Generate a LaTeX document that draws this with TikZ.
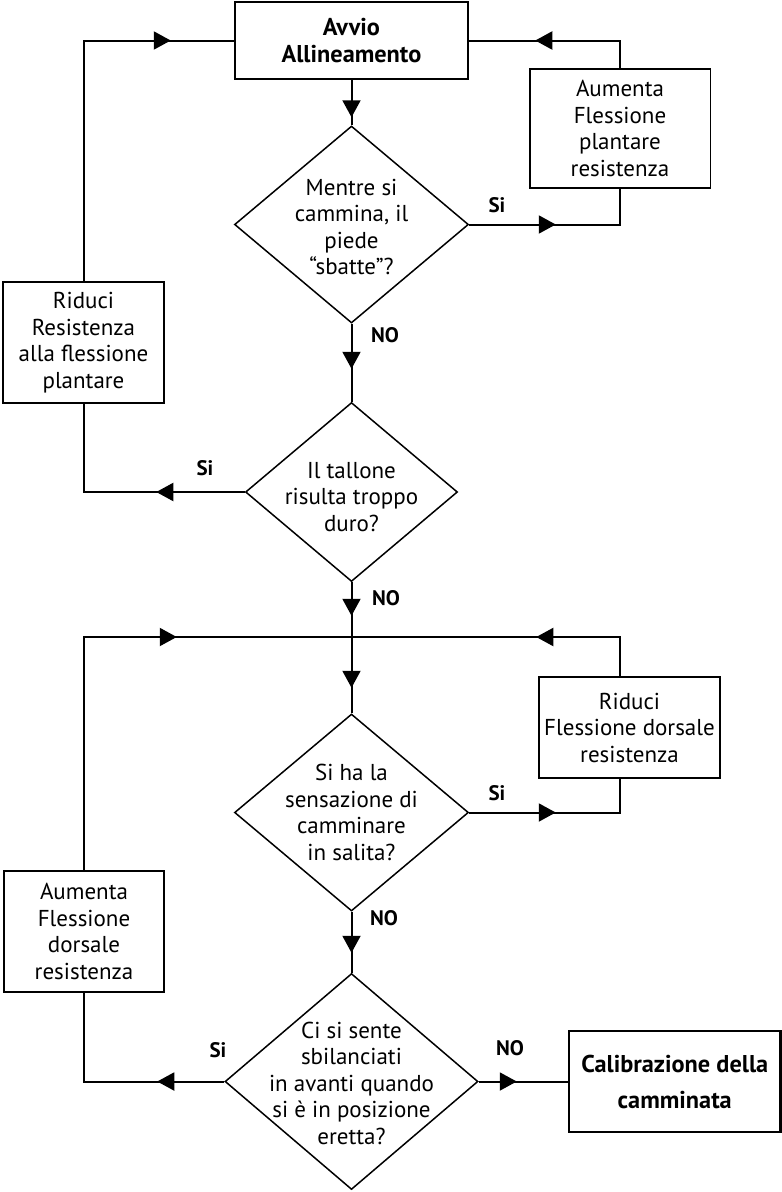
\documentclass[tikz,border=0pt]{standalone}
\usepackage{fontspec}
\setmainfont{PT Sans}
\usetikzlibrary{shapes.geometric,arrows.meta,decorations.markings}
\begin{document}
\begin{tikzpicture}[x=1pt,y=-1pt,
  body/.style={font=\fontsize{23pt}{26.5pt}\selectfont, align=center},
  startbox/.style={draw, line width=2.5pt, align=center, inner sep=0pt,
    font=\fontsize{24.3pt}{27pt}\selectfont\bfseries},
  endbox/.style={draw, line width=2.5pt, align=center, inner sep=0pt,
    font=\fontsize{24.3pt}{36pt}\selectfont\bfseries},
  procbox/.style={draw, line width=1.5pt, body, inner sep=0pt},
  decision/.style={draw, diamond, line width=1.5pt, inner sep=0pt},
  qtext/.style={body, inner sep=0pt},
  lbl/.style={font=\fontsize{21pt}{24pt}\selectfont\bfseries, inner sep=0pt},
  flow/.style={draw, line width=2pt},
  tipat/.style={postaction={decorate, decoration={markings,
    mark=at position #1 with {\arrow{Triangle[length=17pt,width=18pt]}}}}},
]
\useasboundingbox (0,0) rectangle (782,1192);

% process boxes
\node[startbox, minimum width=233, minimum height=77] (start) at (351.5,40.5) {Avvio\\Allineamento};
\node[procbox, minimum width=180.5, minimum height=119] (aup) at (620,128.5) {Aumenta\\Flessione\\plantare\\resistenza};
\node[procbox, minimum width=161, minimum height=121] (rid) at (83.5,342.5) {Riduci\\Resistenza\\alla flessione\\plantare};
\node[procbox, minimum width=181, minimum height=101] (rdd) at (629.5,727.5) {Riduci\\Flessione dorsale\\resistenza};
\node[procbox, minimum width=160, minimum height=121] (aud) at (84,931.5) {Aumenta\\Flessione\\dorsale\\resistenza};
\node[endbox, minimum width=211.5, minimum height=101] (cal) at (674.75,1081.5) {Calibrazione della\\camminata};

% decisions
\node[decision, minimum width=234, minimum height=197] (d1) at (351.5,224.5) {};
\node[qtext] (d1t) at (351.5,227) {Mentre si\\cammina, il\\piede\\“sbatte”?};
\node[decision, minimum width=212, minimum height=179] (d2) at (351.5,492) {};
\node[qtext] (d2t) at (351.5,497) {Il tallone\\risulta troppo\\duro?};
\node[decision, minimum width=234, minimum height=197] (d3) at (351.5,812.5) {};
\node[qtext] (d3t) at (351.5,812.5) {Si ha la\\sensazione di\\camminare\\in salita?};
\node[decision, minimum width=253, minimum height=216] (d4) at (351.5,1081.5) {};
\node[qtext] (d4t) at (351.5,1083) {Ci si sente\\sbilanciati\\in avanti quando\\si è in posizione\\eretta?};

% junction points
\coordinate (j) at (351.5,637);
\coordinate (rc) at (620,637);

% connectors
\draw[flow, tipat=328pt] (rid.north) |- (start.west);
\draw[flow, tipat=112.5pt] (aup.north) |- (start.east);
\draw[flow, tipat=37pt] (start.south) -- (d1.north);
\draw[flow, tipat=86.5pt] (d1.east) -| (aup.south);
\draw[flow, tipat=45pt] (d1.south) -- (d2.north);
\draw[flow, tipat=88.5pt] (d2.west) -| (rid.south);
\draw[flow, tipat=33.5pt, tipat=105.5pt] (d2.south) -- (d3.north);
\draw[flow, tipat=123pt] (rc |- rdd.north) -- (rc) -- (j);
\draw[flow, tipat=326pt] (aud.north) |- (j);
\draw[flow, tipat=86.5pt] (d3.east) -| (rc |- rdd.south);
\draw[flow, tipat=41pt] (d3.south) -- (d4.north);
\draw[flow, tipat=67pt] (d4.west) -| (aud.south);
\draw[flow, tipat=38pt] (d4.east) -- (cal.west);

% branch labels
\node[lbl] (l1s) at (497,205) {Si};
\node[lbl] (l1n) at (385,335) {NO};
\node[lbl] (l2s) at (205,468) {Si};
\node[lbl] (l2n) at (386,598) {NO};
\node[lbl] (l3s) at (497,793) {Si};
\node[lbl] (l3n) at (384,918) {NO};
\node[lbl] (l4s) at (218,1050) {Si};
\node[lbl] (l4n) at (510,1048) {NO};
\end{tikzpicture}
\end{document}
